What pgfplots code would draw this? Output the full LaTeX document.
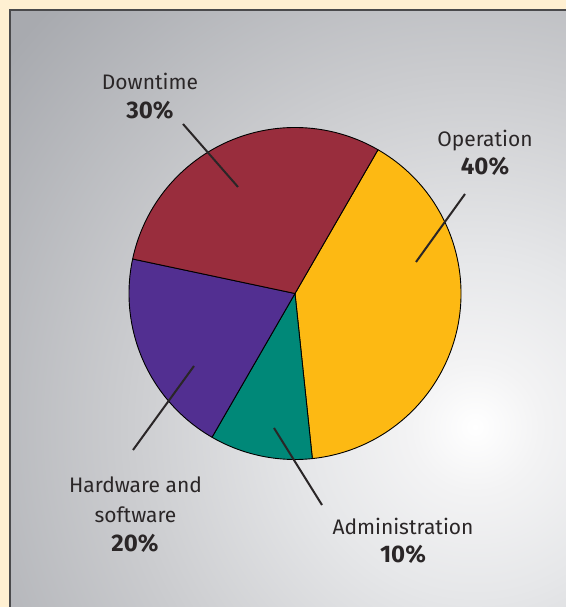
\documentclass[border=0pt]{standalone}
\usepackage{pgfplots}
\pgfplotsset{compat=1.18}
\usepackage{pgfplotstable}
\usepackage{fontspec}
\setmainfont{Fira Sans}
\definecolor{cream}{HTML}{FFF0D2}
\definecolor{frame}{HTML}{4A4A4C}
\definecolor{opcol}{HTML}{FDB913}
\definecolor{adcol}{HTML}{008878}
\definecolor{hwcol}{HTML}{522F91}
\definecolor{dtcol}{HTML}{992D3D}
\definecolor{txt}{HTML}{2A2627}
\definecolor{g1}{HTML}{F3F3F4}
\definecolor{g2}{HTML}{E6E7E9}
\definecolor{g3}{HTML}{CBCCCF}
\definecolor{g4}{HTML}{A8AAAF}
\pgfdeclareradialshading{bgglow}{\pgfpoint{0bp}{0bp}}{%
  color(0bp)=(white); color(2.5bp)=(g1); color(6.5bp)=(g2);
  color(13.5bp)=(g3); color(23bp)=(g4); color(50bp)=(g4)}

% share of each slice, clockwise from the top right
\pgfplotstableread{
label value
Operation 40
Administration 10
Hardware 20
Downtime 30
}\piedata

\newcommand{\lab}[3]{\node[anchor=base, text=txt, font=#3] at (axis cs:#1) {#2};}

\begin{document}
\begin{tikzpicture}
\pgfplotstablegetelem{0}{value}\of\piedata \edef\vA{\pgfplotsretval}
\pgfplotstablegetelem{1}{value}\of\piedata \edef\vB{\pgfplotsretval}
\pgfplotstablegetelem{2}{value}\of\piedata \edef\vC{\pgfplotsretval}
\pgfplotstablegetelem{3}{value}\of\piedata \edef\vD{\pgfplotsretval}
\pgfmathsetmacro\aO{60}
\pgfmathsetmacro\aA{\aO-3.6*\vA}
\pgfmathsetmacro\aB{\aA-3.6*\vB}
\pgfmathsetmacro\aC{\aB-3.6*\vC}
\pgfmathsetmacro\aD{\aC-3.6*\vD}
\begin{axis}[
  x=1bp, y=1bp, xmin=0, xmax=566, ymin=0, ymax=607,
  hide axis, clip=false, scale only axis,
]
% background
\fill[cream] (axis cs:0,0) rectangle (axis cs:566,607);
\begin{scope}
  \clip (axis cs:10,0) rectangle (axis cs:566,597);
  \shade[shading=bgglow] (axis cs:475,180) circle[radius=650bp];
\end{scope}
\fill[frame] (axis cs:9,0) rectangle (axis cs:11,598);
\fill[frame] (axis cs:9,596) rectangle (axis cs:566,598);
% pie
\def\R{166bp}
\filldraw[fill=opcol, draw=black, line width=0.9bp, line join=round]
  (axis cs:295,313.5) -- ++(\aO:\R) arc[start angle=\aO, end angle=\aA, radius=\R] -- cycle;
\filldraw[fill=adcol, draw=black, line width=0.9bp, line join=round]
  (axis cs:295,313.5) -- ++(\aA:\R) arc[start angle=\aA, end angle=\aB, radius=\R] -- cycle;
\filldraw[fill=hwcol, draw=black, line width=0.9bp, line join=round]
  (axis cs:295,313.5) -- ++(\aB:\R) arc[start angle=\aB, end angle=\aC, radius=\R] -- cycle;
\filldraw[fill=dtcol, draw=black, line width=0.9bp, line join=round]
  (axis cs:295,313.5) -- ++(\aC:\R) arc[start angle=\aC, end angle=\aD, radius=\R] -- cycle;
% leader lines
\addplot[txt, line width=2bp] coordinates {(183,483) (238,420)};
\addplot[txt, line width=2bp] coordinates {(465,413) (416,345)};
\addplot[txt, line width=2bp] coordinates {(133,157) (194,241)};
\addplot[txt, line width=2bp] coordinates {(274,179) (322,102)};
% labels
\lab{150,517}{Downtime}{\fontsize{21bp}{25bp}\selectfont}
\lab{150,488}{30\%}{\fontsize{24bp}{28bp}\selectfont\bfseries}
\lab{485,460}{Operation}{\fontsize{21bp}{25bp}\selectfont}
\lab{485,432}{40\%}{\fontsize{24bp}{28bp}\selectfont\bfseries}
\lab{135.5,114}{Hardware and}{\fontsize{21bp}{25bp}\selectfont}
\lab{135.5,84}{software}{\fontsize{21bp}{25bp}\selectfont}
\lab{135,55}{20\%}{\fontsize{24bp}{28bp}\selectfont\bfseries}
\lab{403,72}{Administration}{\fontsize{21bp}{25bp}\selectfont}
\lab{403,44}{10\%}{\fontsize{24bp}{28bp}\selectfont\bfseries}
\end{axis}
\end{tikzpicture}
\end{document}
